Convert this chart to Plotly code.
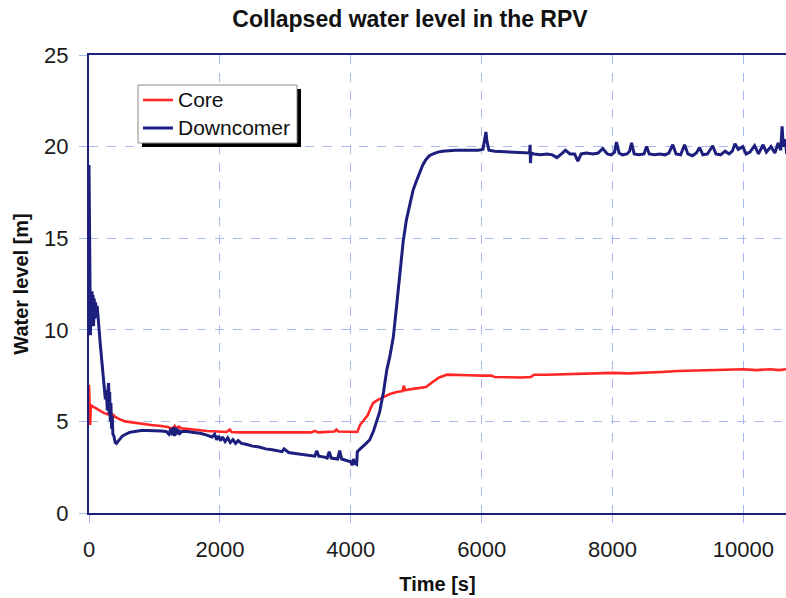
import plotly.graph_objects as go

# ---------------- data ----------------
dc_t = [0, 8, 15, 22, 30, 38, 46, 54, 62, 70,
        80, 90, 100, 112, 125, 140, 155, 170, 190, 210,
        230, 250, 265, 280, 292, 300, 308, 316, 325, 335,
        345, 355, 365, 380, 400, 420, 440, 470, 510, 560,
        620, 700, 800, 900, 1000, 1100, 1180, 1220, 1250, 1270,
        1290, 1310, 1330, 1350, 1370, 1390, 1420, 1500, 1600, 1700,
        1800, 1880, 1920, 1950, 1980, 2010, 2040, 2080, 2120, 2160,
        2200, 2240, 2280, 2330, 2400, 2500, 2600, 2700, 2800, 2900,
        2950, 2980, 3050, 3150, 3250, 3350, 3450, 3480, 3510, 3600,
        3640, 3670, 3700, 3800, 3830, 3860, 3900, 3950, 4000, 4020,
        4040, 4060, 4090, 4100, 4120, 4160, 4220, 4290, 4350, 4400,
        4440, 4500, 4550, 4600, 4650, 4700, 4750, 4800, 4850, 4900,
        4950, 5000, 5050, 5100, 5150, 5200, 5260, 5330, 5400, 5480,
        5600, 5800, 5950, 6020, 6050, 6065, 6080, 6110, 6200, 6400,
        6600, 6730, 6740, 6745, 6755, 6800, 6900, 7000, 7080, 7150,
        7220, 7280, 7350, 7420, 7470, 7520, 7600, 7700, 7780, 7850,
        7920, 7980, 8030, 8060, 8100, 8150, 8220, 8260, 8290, 8330,
        8400, 8480, 8520, 8560, 8640, 8720, 8800, 8860, 8920, 8970,
        9040, 9100, 9150, 9220, 9280, 9330, 9380, 9450, 9530, 9580,
        9650, 9720, 9780, 9830, 9870, 9920, 9990, 10040, 10100, 10170,
        10230, 10300, 10350, 10420, 10480, 10530, 10570, 10590, 10610, 10640,
        10660]
dc_v = [19.0, 15.0, 10.0, 9.7, 12.0, 11.0, 12.1, 10.4, 11.9, 10.2,
        11.7, 10.6, 11.5, 10.9, 11.3, 10.4, 10.0, 9.3, 8.4, 7.6,
        6.6, 6.2, 6.7, 5.6, 6.8, 7.1, 5.4, 6.6, 5.0, 6.0,
        4.6, 5.3, 4.3, 4.2, 3.85, 3.8, 3.9, 4.05, 4.2, 4.3,
        4.4, 4.45, 4.5, 4.5, 4.5, 4.48, 4.45, 4.3, 4.6, 4.25,
        4.7, 4.2, 4.65, 4.3, 4.55, 4.35, 4.45, 4.45, 4.4, 4.35,
        4.25, 4.15, 4.3, 4.0, 4.2, 3.95, 4.15, 3.9, 4.1, 3.85,
        4.0, 3.8, 3.95, 3.8, 3.75, 3.65, 3.6, 3.5, 3.45, 3.4,
        3.35, 3.5, 3.3, 3.25, 3.2, 3.15, 3.1, 3.4, 3.1, 3.05,
        3.0, 3.35, 3.0, 2.95, 3.4, 2.95, 2.9, 2.85, 2.8, 2.6,
        2.95, 2.7, 2.65, 3.35, 3.4, 3.55, 3.75, 4.0, 4.5, 5.0,
        5.5, 6.6, 7.8, 8.6, 9.6, 11.3, 13.0, 14.8, 16.0, 16.9,
        17.6, 18.1, 18.6, 19.0, 19.3, 19.5, 19.6, 19.7, 19.75, 19.78,
        19.8, 19.8, 19.8, 19.85, 20.4, 20.8, 20.3, 19.8, 19.75, 19.72,
        19.68, 19.65, 20.1, 19.1, 19.65, 19.6, 19.55, 19.6, 19.55, 19.4,
        19.6, 19.8, 19.6, 19.6, 19.2, 19.6, 19.65, 19.6, 19.65, 19.9,
        19.6, 19.55, 19.7, 20.25, 19.65, 19.55, 19.6, 19.75, 20.2, 19.6,
        19.55, 19.6, 20.0, 19.6, 19.55, 19.6, 19.55, 19.65, 20.1, 19.6,
        19.55, 20.1, 19.6, 19.5, 19.65, 19.95, 19.55, 19.6, 20.05, 19.6,
        19.55, 19.75, 19.6, 19.75, 20.15, 19.85, 20.0, 19.6, 19.7, 20.05,
        19.6, 20.1, 19.7, 20.0, 19.65, 20.2, 19.8, 21.1, 20.0, 20.4,
        19.6]

core_t = [0, 8, 18, 28, 40, 60, 90, 130, 180, 230,
          280, 320, 350, 370, 400, 440, 480, 550, 650, 800,
          950, 1100, 1200, 1280, 1310, 1340, 1370, 1420, 1500, 1600,
          1700, 1800, 1900, 2000, 2100, 2150, 2180, 2300, 2500, 2800,
          3100, 3400, 3450, 3500, 3750, 3780, 3810, 4000, 4100, 4140,
          4200, 4260, 4300, 4340, 4400, 4490, 4600, 4700, 4790, 4810,
          4830, 4900, 5000, 5080, 5150, 5250, 5350, 5470, 5600, 5800,
          6000, 6150, 6200, 6400, 6600, 6750, 6800, 7000, 7250, 7500,
          7750, 8000, 8250, 8500, 8750, 9000, 9250, 9500, 9750, 10000,
          10200, 10400, 10550, 10660]
core_v = [7.0, 5.6, 4.8, 5.9, 5.85, 5.8, 5.75, 5.65, 5.55, 5.45,
          5.4, 5.35, 5.15, 5.35, 5.25, 5.15, 5.1, 5.0, 4.95, 4.85,
          4.8, 4.75, 4.7, 4.6, 4.75, 4.6, 4.72, 4.62, 4.6, 4.55,
          4.52, 4.48, 4.45, 4.42, 4.42, 4.55, 4.42, 4.4, 4.4, 4.4,
          4.4, 4.4, 4.48, 4.4, 4.45, 4.55, 4.45, 4.42, 4.42, 4.8,
          5.05, 5.35, 5.7, 6.0, 6.15, 6.3, 6.5, 6.6, 6.65, 6.95,
          6.7, 6.75, 6.8, 6.85, 6.88, 7.15, 7.4, 7.55, 7.55, 7.52,
          7.5, 7.5, 7.42, 7.4, 7.4, 7.42, 7.55, 7.55, 7.58, 7.6,
          7.62, 7.65, 7.62, 7.68, 7.7, 7.75, 7.78, 7.82, 7.85, 7.85,
          7.8, 7.85, 7.8, 7.85]

x_ticks = [0, 2000, 4000, 6000, 8000, 10000]
x_tick_labels = ["0", "2000", "4000", "6000", "8000", "10000"]
y_ticks = [0, 5, 10, 15, 20, 25]
y_tick_labels = ["0", "5", "10", "15", "20", "25"]
series_names = ["Core", "Downcomer"]

# ---------------- styling ----------------
FONT = "Liberation Sans, Arial, Helvetica, sans-serif"
NAVY = "#1c1f7e"
RED = "#ff2626"
GRID = "#a9b9f0"
W, H = 786, 598
ML, MR, MT, MB = 89, 0, 55, 85
PW, PH = W - ML - MR, H - MT - MB


def px_x(px):
    return (px - ML) / PW


def px_y(py):
    return (H - MB - py) / PH


fig = go.Figure()
fig.add_trace(go.Scatter(x=core_t, y=core_v, mode="lines", name=series_names[0],
                         line=dict(color=RED, width=2.6), showlegend=False))
fig.add_trace(go.Scatter(x=dc_t, y=dc_v, mode="lines", name=series_names[1],
                         line=dict(color=NAVY, width=3), showlegend=False))

axis_common = dict(
    showgrid=True, gridcolor=GRID, griddash="dash", gridwidth=1,
    showline=True, linecolor=NAVY, linewidth=2,
    ticks="outside", ticklen=8, tickcolor=GRID, tickwidth=1,
    zeroline=False,
    tickfont=dict(family=FONT, size=22, color="#1a1a1a"),
)

fig.update_xaxes(range=[0, 10650], tickvals=x_ticks, ticktext=x_tick_labels,
                 mirror=True, ticklabelstandoff=8,
                 title=dict(text="<b>Time [s]</b>", standoff=16,
                            font=dict(family=FONT, size=20, color="#111")),
                 **axis_common)
fig.update_yaxes(range=[0, 25], tickvals=y_ticks, ticktext=y_tick_labels,
                 mirror=False, ticklabelstandoff=6,
                 title=dict(text="<b>Water level [m]</b>", standoff=10,
                            font=dict(family=FONT, size=20, color="#111")),
                 **axis_common)

# ----- hand-drawn legend box with drop shadow -----
LX0, LX1, LY0, LY1 = 138, 297, 85, 143
SH = 4
fig.add_shape(type="rect", xref="paper", yref="paper",
              x0=px_x(LX0 + SH), x1=px_x(LX1 + SH),
              y0=px_y(LY1 + SH), y1=px_y(LY0 + SH),
              fillcolor="black", line=dict(width=0), layer="above")
fig.add_shape(type="rect", xref="paper", yref="paper",
              x0=px_x(LX0), x1=px_x(LX1), y0=px_y(LY1), y1=px_y(LY0),
              fillcolor="white", line=dict(color="#8a8a8a", width=1),
              layer="above")
for name, color, width, yy in [(series_names[0], RED, 2.6, 100),
                               (series_names[1], NAVY, 3, 128)]:
    fig.add_shape(type="line", xref="paper", yref="paper",
                  x0=px_x(143), x1=px_x(173), y0=px_y(yy), y1=px_y(yy),
                  line=dict(color=color, width=width), layer="above")
    fig.add_annotation(text=name, xref="paper", yref="paper",
                       x=px_x(176), y=px_y(yy), xanchor="left",
                       yanchor="middle", showarrow=False,
                       font=dict(family=FONT, size=21, color="#111"))

fig.update_layout(
    width=W, height=H,
    margin=dict(l=ML, r=MR, t=MT, b=MB, autoexpand=False),
    paper_bgcolor="white", plot_bgcolor="white",
    font=dict(family=FONT),
    title=dict(text="<b>Collapsed water level in the RPV</b>",
               x=410 / W, xanchor="center", xref="container",
               y=1 - 19 / H, yanchor="middle", yref="container",
               font=dict(family=FONT, size=23, color="#111")),
    showlegend=False,
)

fig.write_html("out.html")
